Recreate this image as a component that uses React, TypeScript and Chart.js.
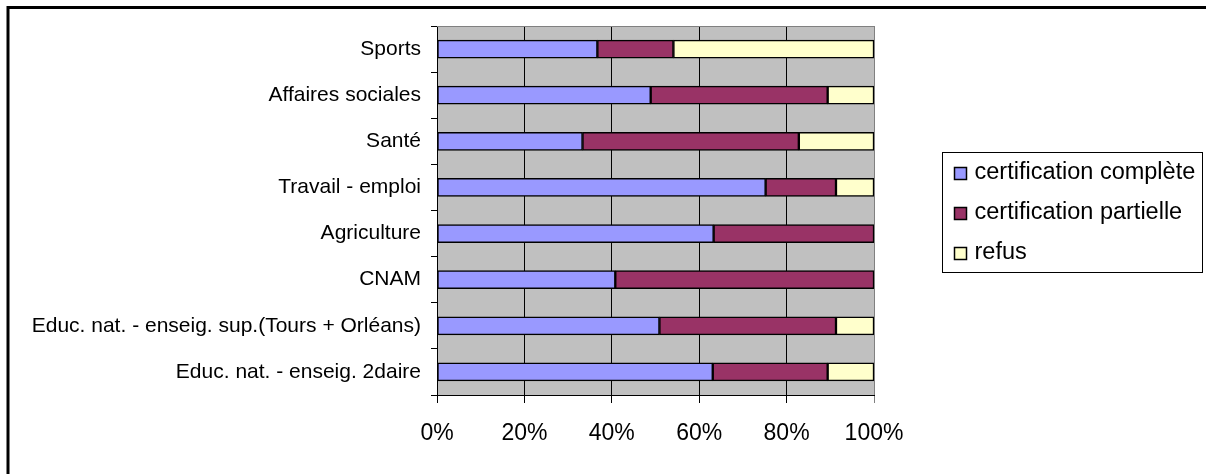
import React, { useEffect, useRef } from 'react';
import { Chart, registerables } from 'chart.js';

Chart.register(...registerables);

const categories = [
  'Sports',
  'Affaires sociales',
  'Santé',
  'Travail - emploi',
  'Agriculture',
  'CNAM',
  'Educ. nat. - enseig. sup.(Tours + Orléans)',
  'Educ. nat. - enseig. 2daire',
];
const seriesNames = ['certification complète', 'certification partielle', 'refus'];
const complete = [36.7, 48.9, 33.3, 75.2, 63.3, 40.8, 50.9, 63.1];
const partielle = [17.4, 40.5, 49.5, 16.1, 36.7, 59.2, 40.4, 26.3];
const refus = [45.9, 10.6, 17.2, 8.7, 0, 0, 8.7, 10.6];
const xTicks = [0, 20, 40, 60, 80, 100];
const seriesColors = ['#9999FF', '#993366', '#FFFFCC'];

const FONT = "'Liberation Sans', Arial, sans-serif";

const framePlugin = {
  id: 'xlFrame',
  beforeDraw(chart: any) {
    const { ctx, chartArea: ca } = chart;
    ctx.save();
    ctx.fillStyle = '#FFFFFF';
    ctx.fillRect(0, 0, chart.width, chart.height);
    ctx.fillStyle = '#C0C0C0';
    ctx.fillRect(ca.left, ca.top, ca.right - ca.left, ca.bottom - ca.top);
    ctx.restore();
  },
  afterDraw(chart: any) {
    const { ctx, chartArea: ca } = chart;
    ctx.save();
    // plot area top border
    ctx.strokeStyle = '#808080';
    ctx.lineWidth = 1;
    ctx.beginPath();
    ctx.moveTo(ca.left, ca.top + 0.5);
    ctx.lineTo(ca.right + 0.5, ca.top + 0.5);
    ctx.stroke();
    // outer chart frame (top and left edges visible)
    ctx.strokeStyle = '#000000';
    ctx.lineWidth = 3;
    ctx.beginPath();
    ctx.moveTo(8, chart.height);
    ctx.lineTo(8, 7.5);
    ctx.lineTo(chart.width, 7.5);
    ctx.stroke();

    // legend
    const ds = chart.data.datasets;
    const n = ds.length;
    const rowH = 40;
    const cy = (ca.top + ca.bottom) / 2 + 1;
    const boxLeft = ca.right + 68.5;
    const boxRight = chart.width - 3.5;
    const boxTop = Math.round(cy - (n * rowH) / 2) + 0.5;
    const boxBottom = Math.round(cy + (n * rowH) / 2) + 0.5;
    ctx.fillStyle = '#FFFFFF';
    ctx.fillRect(boxLeft, boxTop, boxRight - boxLeft, boxBottom - boxTop);
    ctx.strokeStyle = '#000000';
    ctx.lineWidth = 1;
    ctx.strokeRect(boxLeft, boxTop, boxRight - boxLeft, boxBottom - boxTop);
    ctx.font = `23.5px ${FONT}`;
    ctx.textBaseline = 'middle';
    ctx.textAlign = 'left';
    for (let i = 0; i < n; i++) {
      const yc = boxTop + rowH / 2 + i * rowH;
      const sq = 12;
      const sx = Math.round(boxLeft + 11) + 0.5;
      const sy = Math.round(yc - sq / 2) + 0.5;
      ctx.fillStyle = ds[i].backgroundColor;
      ctx.fillRect(sx, sy, sq, sq);
      ctx.strokeStyle = '#000000';
      ctx.lineWidth = 1.5;
      ctx.strokeRect(sx, sy, sq, sq);
      ctx.fillStyle = '#000000';
      ctx.fillText(ds[i].label, boxLeft + 32, yc);
    }
    ctx.restore();
  },
};

export default function App() {
  const ref = useRef<HTMLCanvasElement>(null);
  useEffect(() => {
    document.body.style.margin = '0';
    const canvas = ref.current!;
    const values = [complete, partielle, refus];
    const chart = new Chart(canvas, {
      type: 'bar',
      data: {
        labels: categories,
        datasets: seriesNames.map((name, i) => ({
          label: name,
          data: values[i],
          backgroundColor: seriesColors[i],
          borderColor: '#000000',
          borderWidth: 1.5,
          borderSkipped: false,
          barThickness: 18,
        })),
      },
      options: {
        indexAxis: 'y',
        animation: false,
        responsive: false,
        devicePixelRatio: 1,
        layout: { padding: { top: 26, right: 332, bottom: 0, left: 0 } },
        plugins: { legend: { display: false }, tooltip: { enabled: false } },
        scales: {
          x: {
            type: 'linear',
            stacked: true,
            min: 0,
            max: 100,
            afterBuildTicks: (s: any) => {
              s.ticks = xTicks.map((v) => ({ value: v }));
            },
            afterFit: (s: any) => {
              s.height = 79;
            },
            ticks: {
              callback: (v: any) => v + '%',
              color: '#000000',
              font: { family: FONT, size: 23 },
              padding: 17,
              maxRotation: 0,
            },
            grid: {
              color: (c: any) => (c.tick && c.tick.value === 100 ? '#808080' : '#000000'),
              lineWidth: 1,
              drawTicks: true,
              tickLength: 8,
              drawOnChartArea: true,
            },
            border: { display: true, color: '#000000', width: 1 },
          },
          y: {
            type: 'category',
            stacked: true,
            afterFit: (s: any) => {
              s.width = 437;
            },
            ticks: {
              color: '#000000',
              font: { family: FONT, size: 21 },
              padding: 10,
              autoSkip: false,
            },
            grid: {
              drawOnChartArea: false,
              drawTicks: true,
              tickLength: 6,
              color: '#000000',
              offset: true,
            },
            border: { display: true, color: '#000000', width: 1 },
          },
        },
      },
      plugins: [framePlugin],
    });
    return () => chart.destroy();
  }, []);
  return <canvas ref={ref} width={1206} height={474} style={{ display: 'block', width: 1206, height: 474 }} />;
}
